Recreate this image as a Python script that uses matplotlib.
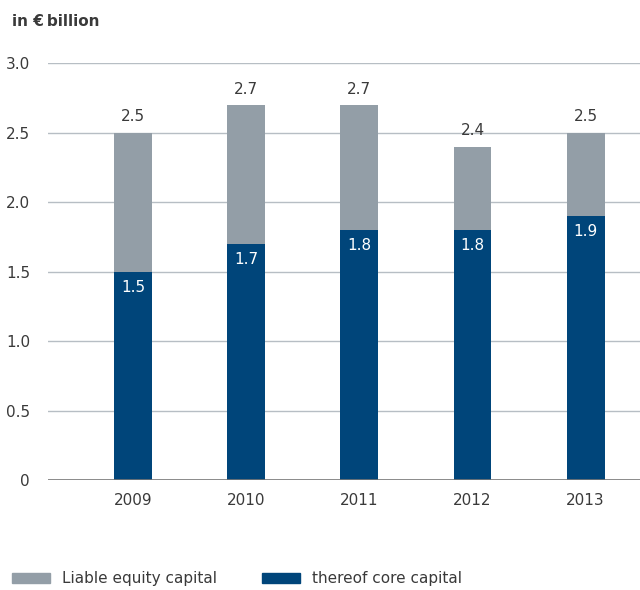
import matplotlib
matplotlib.use("Agg")
import matplotlib.pyplot as plt
import numpy as np

years = ["2009", "2010", "2011", "2012", "2013"]
liable_equity = [2.5, 2.7, 2.7, 2.4, 2.5]
core_capital = [1.5, 1.7, 1.8, 1.8, 1.9]

GRAY = "#939ea7"
BLUE = "#00457a"
TEXT = "#3a3a3a"

plt.rcParams["font.family"] = ["DejaVu Sans"]

fig = plt.figure(figsize=(6.4, 5.9), dpi=100)
ax = fig.add_axes([0.075, 0.186, 0.925, 0.707])

x = np.arange(len(years))
w = 0.335

# grid behind bars
for yv in np.arange(0.5, 3.01, 0.5):
    ax.axhline(yv, color="#b7bec4", lw=1.0, zorder=0)
ax.axhline(0, color="#777777", lw=1.2, zorder=3)

ax.bar(x, liable_equity, width=w, color=GRAY, zorder=2)
ax.bar(x, core_capital, width=w, color=BLUE, zorder=2)

for xi, tot, core in zip(x, liable_equity, core_capital):
    ax.text(xi, tot + 0.06, f"{tot:.1f}", ha="center", va="bottom",
            fontsize=11, color=TEXT)
    ax.text(xi, core - 0.06, f"{core:.1f}", ha="center", va="top",
            fontsize=11, color="white")

ax.set_xlim(-0.75, 4.48)
ax.set_ylim(0, 3.0)
ax.set_yticks([0, 0.5, 1.0, 1.5, 2.0, 2.5, 3.0])
ax.set_yticklabels(["0", "0.5", "1.0", "1.5", "2.0", "2.5", "3.0"])
ax.set_xticks(x)
ax.set_xticklabels(years)
ax.tick_params(axis="both", length=0, labelsize=11, colors=TEXT)
ax.tick_params(axis="y", pad=13)
ax.tick_params(axis="x", pad=9)
for s in ax.spines.values():
    s.set_visible(False)

fig.text(12 / 640, 1 - 22 / 590, "in €\u2009billion", fontsize=11,
         fontweight="bold", color=TEXT, va="center", ha="left")

# legend drawn by hand along the bottom
leg_y = 1 - 578 / 590
for x0, col, lab in [(12, GRAY, "Liable equity capital"),
                     (262, BLUE, "thereof core capital")]:
    fig.patches.append(plt.Rectangle((x0 / 640, leg_y - 5 / 590), 38 / 640,
                                     10 / 590, color=col,
                                     transform=fig.transFigure))
    fig.text((x0 + 50) / 640, leg_y, lab, fontsize=11, color=TEXT,
             va="center", ha="left")

fig.savefig("out.png", dpi=100)
